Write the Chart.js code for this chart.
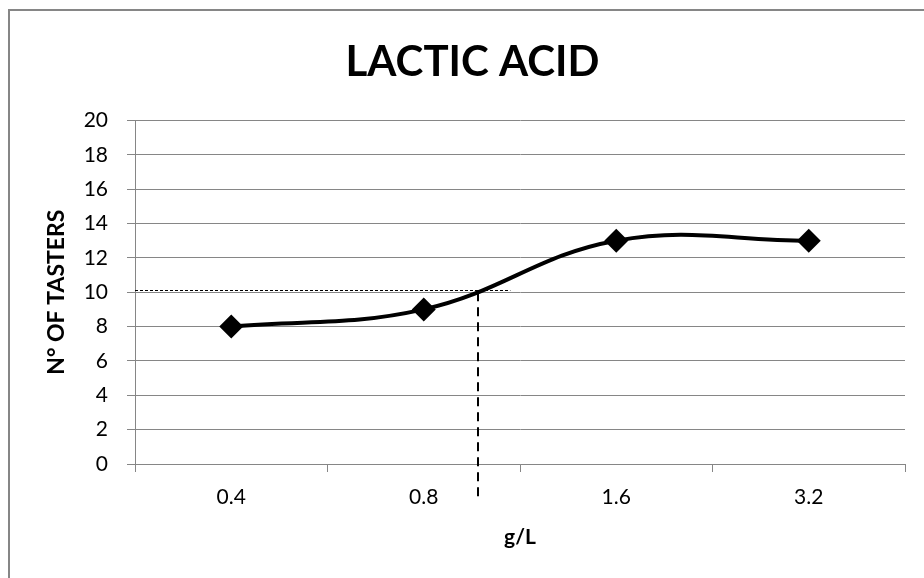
<!DOCTYPE html>
<html>
<head>
<meta charset="utf-8">
<script src="https://cdn.jsdelivr.net/npm/chart.js@4"></script>
<style>
  html, body { margin: 0; padding: 0; background: #fff; }
  #wrap { width: 924px; height: 578px; position: relative; }
</style>
</head>
<body>
<div id="wrap"><canvas id="chart" width="924" height="578"></canvas></div>
<script>
// chart data
var doses = ["0.4", "0.8", "1.6", "3.2"];
var tasters = [8, 9, 13, 13];
var yTicks = [0, 2, 4, 6, 8, 10, 12, 14, 16, 18, 20];

// dashed guide: threshold at 10 tasters, read on the category axis
var guideLevel = 10;
var guideDose = 1.28;      // fractional category index where curve meets 10
var guideLineEnd = 1.45;   // horizontal guide stops here
var guideDrop = -1.9;      // vertical guide runs a bit below the axis

var grey = "#868686";

var frame = {
    id: 'frame',
    beforeDraw: function (chart) {
        var ctx = chart.ctx;
        ctx.save();
        ctx.fillStyle = "#fff";
        ctx.fillRect(0, 0, chart.width, chart.height);
        ctx.strokeStyle = grey;
        ctx.lineWidth = 2;
        ctx.strokeRect(9, 10, 1000, 1000);
        ctx.restore();
    }
};

var guides = {
    id: 'guides',
    afterDatasetsDraw: function (chart) {
        var ctx = chart.ctx;
        var x = chart.scales.x, y = chart.scales.y;
        var yLevel = y.getPixelForValue(guideLevel);
        ctx.save();
        ctx.strokeStyle = "#000";

        ctx.lineWidth = 1;
        ctx.setLineDash([3, 2]);
        ctx.beginPath();
        ctx.moveTo(chart.chartArea.left, Math.round(yLevel) - 1.5);
        ctx.lineTo(x.getPixelForValue(guideLineEnd), Math.round(yLevel) - 1.5);
        ctx.stroke();

        var xd = Math.round(x.getPixelForValue(guideDose));
        ctx.lineWidth = 2;
        ctx.setLineDash([9, 6]);
        ctx.beginPath();
        ctx.moveTo(xd, yLevel);
        ctx.lineTo(xd, y.getPixelForValue(guideDrop));
        ctx.stroke();
        ctx.restore();
    }
};

var ctx = document.getElementById('chart').getContext('2d');

new Chart(ctx, {
    type: 'line',
    data: {
        labels: doses,
        datasets: [{
            label: 'Lactic acid',
            data: tasters,
            borderColor: "#000",
            backgroundColor: "#000",
            borderWidth: 4,
            tension: 0.4,
            pointStyle: 'rectRot',
            pointRadius: 12,
            pointBorderWidth: 0,
            pointBackgroundColor: "#000"
        }]
    },
    options: {
        responsive: false,
        animation: false,
        layout: { padding: { left: 40, right: 19, top: 0, bottom: 0 } },
        plugins: {
            legend: { display: false },
            tooltip: { enabled: false },
            title: {
                display: true,
                text: 'LACTIC ACID',
                color: "#000",
                font: { family: 'Lato', size: 42, weight: 'bold', lineHeight: 1.2 },
                padding: { top: 37, bottom: 33 }
            }
        },
        scales: {
            x: {
                offset: true,
                grid: {
                    offset: true,
                    drawOnChartArea: false,
                    drawTicks: true,
                    tickLength: 8,
                    color: grey
                },
                border: { color: grey, width: 1 },
                ticks: {
                    color: "#000",
                    padding: 13,
                    font: { family: 'Lato', size: 21 }
                },
                title: {
                    display: true,
                    text: 'g/L',
                    color: "#000",
                    font: { family: 'Lato', size: 21, weight: 'bold', lineHeight: 1.2 },
                    padding: { top: 0, bottom: 28 }
                },
                afterFit: function (scale) { scale.height = 114; }
            },
            y: {
                min: 0,
                max: 20,
                afterBuildTicks: function (scale) {
                    scale.ticks = yTicks.map(function (v) { return { value: v }; });
                },
                grid: {
                    color: grey,
                    drawTicks: true,
                    tickLength: 8
                },
                border: { color: grey, width: 1 },
                ticks: {
                    color: "#000",
                    padding: 19,
                    font: { family: 'Lato', size: 21 }
                },
                title: {
                    display: true,
                    text: 'N° OF TASTERS',
                    color: "#000",
                    font: { family: 'Lato', size: 23, weight: 'bold', lineHeight: 1.2 },
                    padding: { top: 3, bottom: 0 }
                },
                afterFit: function (scale) { scale.width = 95; }
            }
        }
    },
    plugins: [frame, guides]
});
</script>
</body>
</html>
